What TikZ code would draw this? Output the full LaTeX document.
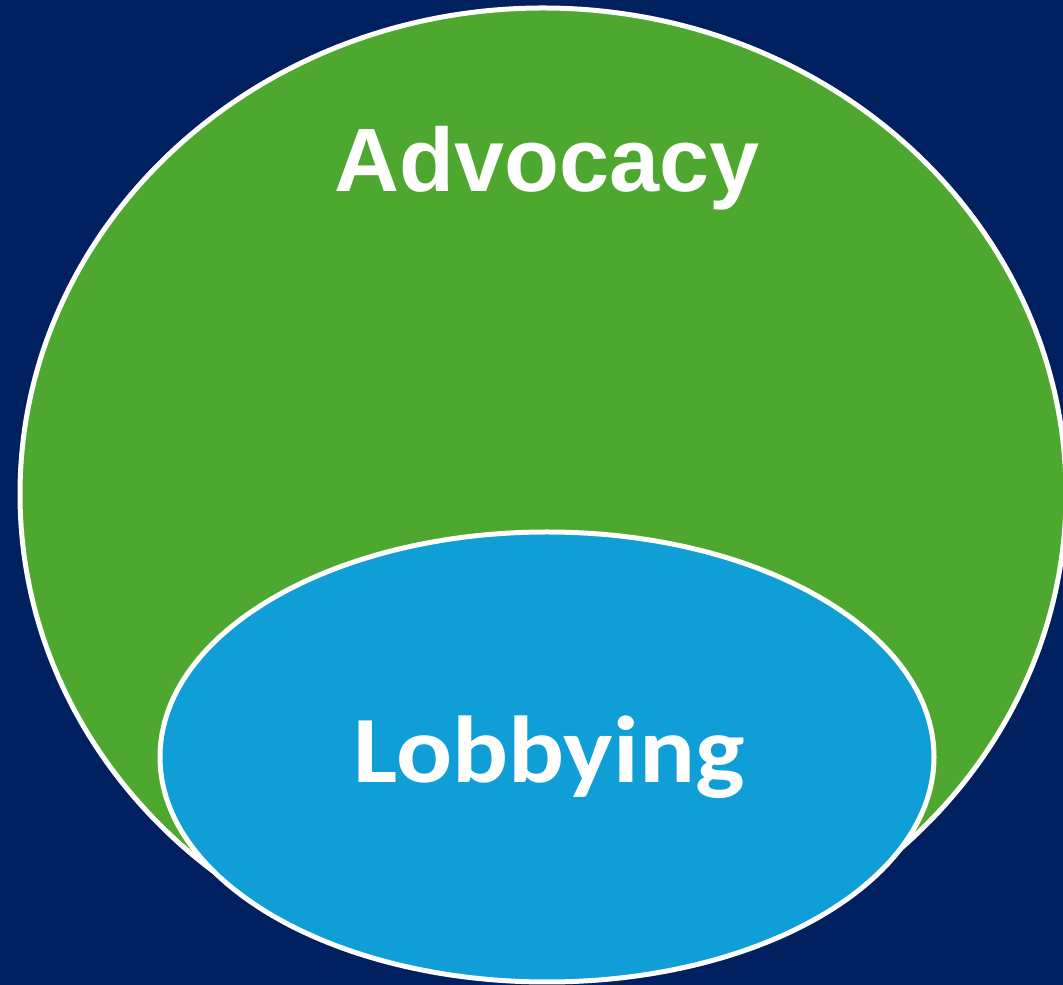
\documentclass[tikz,border=0pt]{standalone}
\usepackage{fontspec}
\setmainfont{Liberation Sans}
\newfontfamily\lobbyfont[FakeStretch=1.1]{Carlito}
\usepackage{tikz}
\usetikzlibrary{positioning}
\definecolor{navybg}{HTML}{002060}
\definecolor{advgreen}{HTML}{4EA72E}
\definecolor{lobblue}{HTML}{0F9ED5}
\tikzset{setline/.style={draw=white,line width=5pt}}
\tikzset{setlabel/.style={text=white,anchor=base,inner sep=0pt}}

\begin{document}
\begin{tikzpicture}[x=1pt,y=1pt]
    % background and fixed size
    \fill[navybg] (0,0) rectangle (1063,985);
    \useasboundingbox (0,0) rectangle (1063,985);

    % outer set
    \filldraw[setline,fill=advgreen] (543,491) ellipse[x radius=523,y radius=486];
    % inner set
    \filldraw[setline,fill=lobblue] (547,228) ellipse[x radius=387,y radius=225];

    % labels
    \node[setlabel,font=\fontsize{90}{90}\selectfont\bfseries] (advocacy) at (547,793) {Advocacy};
    \node[setlabel,font=\fontsize{95}{95}\selectfont\lobbyfont\bfseries] (lobbying) at (549,202) {Lobbying};
\end{tikzpicture}
\end{document}
